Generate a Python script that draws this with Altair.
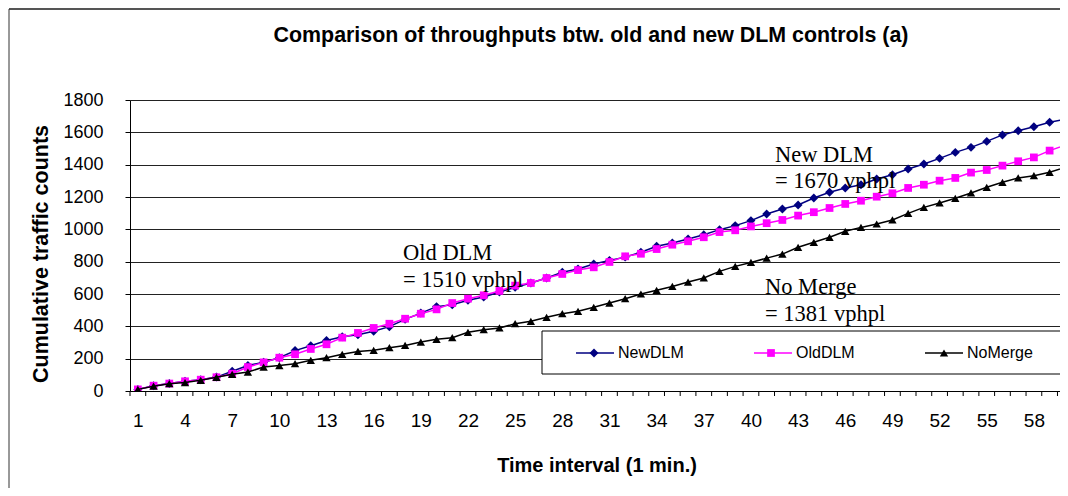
import altair as alt
import pandas as pd

# ---------------- data ----------------
minutes = list(range(1, 61))
new_dlm = [10, 32, 46, 60, 70, 86, 122, 158, 178, 206, 250, 280, 312, 335, 348, 370, 398, 443, 482, 522,
           534, 561, 581, 612, 641, 668, 699, 734, 755, 786, 808, 828, 858, 895, 915, 940, 967, 998, 1023, 1054,
           1095, 1126, 1151, 1194, 1229, 1256, 1276, 1311, 1338, 1373, 1404, 1439, 1476, 1507, 1544, 1584, 1610, 1635, 1662, 1682]
old_dlm = [10, 33, 46, 60, 70, 85, 107, 148, 177, 206, 227, 260, 289, 330, 359, 390, 416, 447, 478, 505,
           544, 571, 592, 619, 652, 668, 699, 724, 748, 765, 798, 833, 849, 878, 905, 926, 951, 983, 994, 1018,
           1038, 1058, 1085, 1106, 1132, 1157, 1177, 1202, 1223, 1256, 1276, 1301, 1318, 1351, 1367, 1394, 1421, 1445, 1487, 1520]
no_merge = [10, 30, 45, 52, 66, 85, 103, 117, 148, 157, 169, 190, 206, 227, 245, 252, 268, 282, 303, 320,
            330, 363, 379, 390, 416, 431, 456, 478, 493, 518, 544, 571, 600, 623, 647, 674, 699, 740, 771, 795,
            822, 847, 889, 920, 951, 988, 1012, 1033, 1058, 1099, 1136, 1163, 1192, 1225, 1260, 1291, 1318, 1332, 1353, 1384]
y_ticks = [0, 200, 400, 600, 800, 1000, 1200, 1400, 1600, 1800]
x_labels = list(range(1, 59, 3))
tick_bounds = [i + 0.5 for i in range(0, 60)]

title_text = "Comparison of throughputs btw. old and new DLM controls (a)"
x_title = "Time interval (1 min.)"
y_title = "Cumulative traffic counts"

# ---------------- layout ----------------
W, H = 930, 291
SANS = "Liberation Sans"
SERIF = "Liberation Serif"

df = pd.DataFrame({"t": minutes, "NewDLM": new_dlm, "OldDLM": old_dlm, "NoMerge": no_merge})
one = pd.DataFrame({"k": [0]})

xs = alt.Scale(domain=[0.5, 0.5 + W / 15.72], nice=False, zero=False)
ys = alt.Scale(domain=[0, 1800], nice=False, zero=True)

x_axis = alt.Axis(values=x_labels, grid=False, ticks=False, domainColor="#000", domainWidth=1,
                  labelFont=SANS, labelFontSize=19, labelColor="#000", labelPadding=20,
                  labelFlush=False, labelOverlap=False, title=None)
y_axis = alt.Axis(values=y_ticks, format="d", grid=True, gridColor="#222", gridWidth=1,
                  domainColor="#000", domainWidth=1, tickColor="#000", tickSize=5,
                  labelFont=SANS, labelFontSize=18, labelColor="#000", labelPadding=22, title=None)


def series(col, color, shape, size):
    return alt.Chart(df).mark_line(
        color=color, strokeWidth=1.5, clip=True,
        point=alt.OverlayMarkDef(shape=shape, size=size, filled=True, color=color, opacity=1,
                                 strokeWidth=0, clip=True),
    ).encode(
        x=alt.X("t:Q", scale=xs, axis=x_axis),
        y=alt.Y(f"{col}:Q", scale=ys, axis=y_axis),
    )


lines = [
    series("NewDLM", "#000080", "diamond", 80),
    series("OldDLM", "#FF00FF", "square", 60),
    series("NoMerge", "#000000", "triangle-up", 70),
]

ticks = alt.Chart(pd.DataFrame({"b": tick_bounds})).mark_rule(color="#000", strokeWidth=1).encode(
    x=alt.X("b:Q", scale=xs, axis=x_axis), y=alt.value(H), y2=alt.value(H + 5)
)


def txt(s, x, y, font=SANS, size=18, bold=False, align="left", angle=0, baseline="alphabetic"):
    kw = dict(text=s, font=font, fontSize=size, color="#000", align=align, baseline=baseline)
    if bold:
        kw["fontWeight"] = "bold"
    if angle:
        kw["angle"] = angle
    return alt.Chart(one).mark_text(**kw).encode(x=alt.value(x), y=alt.value(y))


def rule(x, y, x2=None, y2=None, color="#000", width=1):
    enc = dict(x=alt.value(x), y=alt.value(y))
    if x2 is not None:
        enc["x2"] = alt.value(x2)
    if y2 is not None:
        enc["y2"] = alt.value(y2)
    return alt.Chart(one).mark_rule(color=color, strokeWidth=width).encode(**enc)


def sym(x, y, shape, color, size):
    return alt.Chart(one).mark_point(shape=shape, size=size, filled=True, color=color, opacity=1,
                                     strokeWidth=0).encode(x=alt.value(x), y=alt.value(y))


legend_box = alt.Chart(one).mark_rect(fill="white", stroke="#000", strokeWidth=1).encode(
    x=alt.value(412), x2=alt.value(933), y=alt.value(231), y2=alt.value(274)
)
LY = 253
legend = [
    legend_box,
    rule(446, LY, x2=484, color="#000080", width=1.5), sym(464, LY, "diamond", "#000080", 80),
    txt("NewDLM", 488, LY, size=16, baseline="middle"),
    rule(624, LY, x2=662, color="#FF00FF", width=1.5), sym(641, LY, "square", "#FF00FF", 60),
    txt("OldDLM", 666, LY, size=16, baseline="middle"),
    rule(795, LY, x2=833, color="#000000", width=1.5), sym(814, LY, "triangle-up", "#000000", 70),
    txt("NoMerge", 837, LY, size=16, baseline="middle"),
]

annotations = [
    txt("Old DLM", 273, 160, font=SERIF, size=22.5),
    txt("= 1510 vphpl", 273, 187, font=SERIF, size=22.5),
    txt("New DLM", 645, 62, font=SERIF, size=22.5),
    txt("= 1670 vphpl", 645, 88, font=SERIF, size=22.5),
    txt("No Merge", 635, 194, font=SERIF, size=22.5),
    txt("= 1381 vphpl", 635, 221, font=SERIF, size=22.5),
]

texts = [
    txt(title_text, 461, -58, size=21.4, bold=True, align="center"),
    txt(x_title, 467, 372, size=20, bold=True, align="center"),
    txt(y_title, -88, 154, size=21.5, bold=True, align="center", angle=270, baseline="middle"),
]

frame = [
    rule(-121, -91, x2=W, color="#555", width=2),
    rule(-121, -91, y2=388, color="#333", width=1),
]

chart = alt.layer(
    *lines, ticks, *annotations, *legend, *texts, *frame
).properties(
    width=W, height=H,
    autosize=alt.AutoSizeParams(type="none"),
    padding={"left": 122, "top": 92, "right": 0, "bottom": 97},
    background="white",
).configure_view(stroke=None)

chart.save("out.html", embed_options={"renderer": "svg", "actions": False})
